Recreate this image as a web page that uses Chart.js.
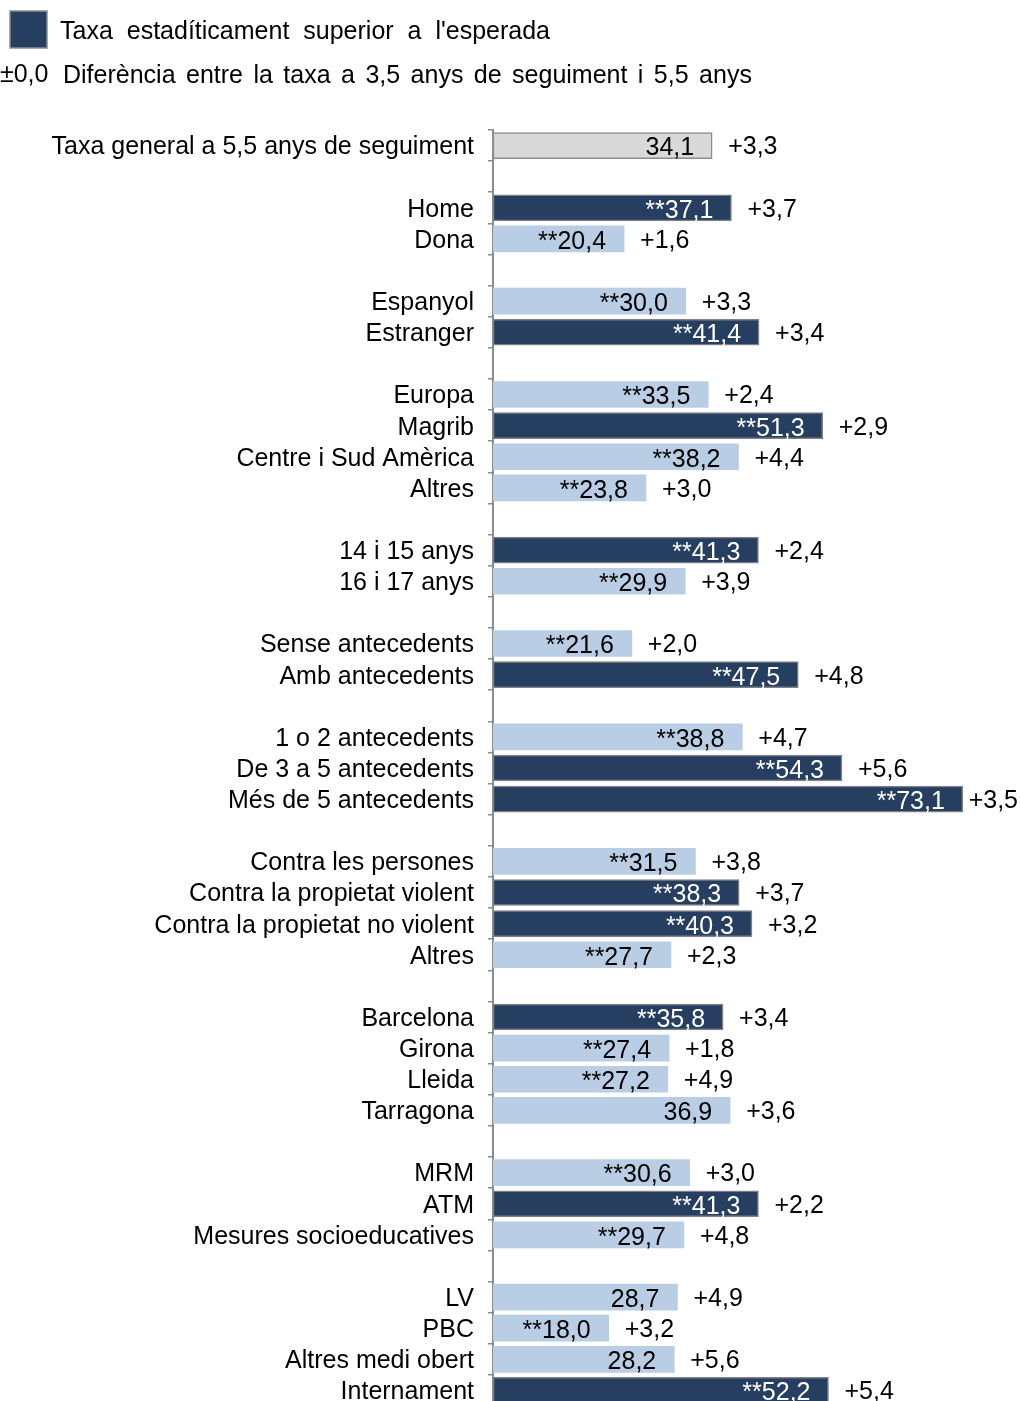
<!DOCTYPE html>
<html>
<head>
<meta charset="utf-8">
<script src="https://cdn.jsdelivr.net/npm/chart.js@4.4.0/dist/chart.umd.min.js"></script>
<style>
  html, body { margin: 0; padding: 0; background: #fff; overflow: hidden; }
  #taxaChart { position: absolute; left: 0; top: 0; }
</style>
</head>
<body>
<canvas id="taxaChart" width="1020" height="1435"></canvas>
<script>
// categories ('' = empty slot between groups)
const categories = [
  'Taxa general a 5,5 anys de seguiment', '',
  'Home', 'Dona', '',
  'Espanyol', 'Estranger', '',
  'Europa', 'Magrib', 'Centre i Sud Amèrica', 'Altres', '',
  '14 i 15 anys', '16 i 17 anys', '',
  'Sense antecedents', 'Amb antecedents', '',
  '1 o 2 antecedents', 'De 3 a 5 antecedents', 'Més de 5 antecedents', '',
  'Contra les persones', 'Contra la propietat violent', 'Contra la propietat no violent', 'Altres', '',
  'Barcelona', 'Girona', 'Lleida', 'Tarragona', '',
  'MRM', 'ATM', 'Mesures socioeducatives', '',
  'LV', 'PBC', 'Altres medi obert', 'Internament'
];

// taxa a 5,5 anys
const rates = [
  34.1, null,
  37.1, 20.4, null,
  30.0, 41.4, null,
  33.5, 51.3, 38.2, 23.8, null,
  41.3, 29.9, null,
  21.6, 47.5, null,
  38.8, 54.3, 73.1, null,
  31.5, 38.3, 40.3, 27.7, null,
  35.8, 27.4, 27.2, 36.9, null,
  30.6, 41.3, 29.7, null,
  28.7, 18.0, 28.2, 52.2
];

// diferència entre 3,5 i 5,5 anys
const diffs = [
  3.3, null,
  3.7, 1.6, null,
  3.3, 3.4, null,
  2.4, 2.9, 4.4, 3.0, null,
  2.4, 3.9, null,
  2.0, 4.8, null,
  4.7, 5.6, 3.5, null,
  3.8, 3.7, 3.2, 2.3, null,
  3.4, 1.8, 4.9, 3.6, null,
  3.0, 2.2, 4.8, null,
  4.9, 3.2, 5.6, 5.4
];

// ** = significatiu
const significant = [
  0, 0,
  1, 1, 0,
  1, 1, 0,
  1, 1, 1, 1, 0,
  1, 1, 0,
  1, 1, 0,
  1, 1, 1, 0,
  1, 1, 1, 1, 0,
  1, 1, 1, 0, 0,
  1, 1, 1, 0,
  0, 1, 0, 1
];

// taxa estadísticament superior a l'esperada
const aboveExpected = [
  0, 0,
  1, 0, 0,
  0, 1, 0,
  0, 1, 0, 0, 0,
  1, 0, 0,
  0, 1, 0,
  0, 1, 1, 0,
  0, 1, 1, 0, 0,
  1, 0, 0, 0, 0,
  0, 1, 0, 0,
  0, 0, 0, 1
];

const DARK = '#263f61';
const LIGHT = '#b9cde5';
const GREY = '#d9d9d9';
const FONT = '"Liberation Sans", Arial, sans-serif';

const fmt = v => v.toFixed(1).replace('.', ',');

const barColors = rates.map((v, i) => i === 0 ? GREY : (aboveExpected[i] ? DARK : LIGHT));
const borderColors = rates.map((v, i) => i === 0 ? '#8c8c8c' : (aboveExpected[i] ? '#7f7f86' : LIGHT));
const borderWidths = rates.map((v, i) => (i === 0 || aboveExpected[i]) ? 1.5 : 0);

// legend + bar value labels
const labelPlugin = {
  id: 'labels',
  afterDraw(chart) {
    const ctx = chart.ctx;
    ctx.save();
    ctx.font = '25px ' + FONT;
    ctx.textBaseline = 'middle';

    // legend
    ctx.fillStyle = DARK;
    ctx.fillRect(10, 11, 37, 37);
    ctx.strokeStyle = '#8c8c8c';
    ctx.lineWidth = 1.5;
    ctx.strokeRect(10, 11, 37, 37);
    ctx.fillStyle = '#000';
    ctx.textAlign = 'left';
    ctx.wordSpacing = '7px';
    ctx.fillText("Taxa estadíticament superior a l'esperada", 60, 32);
    ctx.wordSpacing = '3.5px';
    ctx.fillText('Diferència entre la taxa a 3,5 anys de seguiment i 5,5 anys', 63, 76);
    ctx.wordSpacing = '0px';
    ctx.fillText('±0,0', 0, 75);

    // values
    const right = chart.width - 2;
    const meta = chart.getDatasetMeta(0);
    meta.data.forEach((bar, i) => {
      if (rates[i] == null) return;
      const y = bar.y + 3;
      ctx.textAlign = 'right';
      ctx.fillStyle = (i !== 0 && aboveExpected[i]) ? '#fff' : '#000';
      ctx.fillText((significant[i] ? '**' : '') + fmt(rates[i]), bar.x - 18, y);
      ctx.textAlign = 'left';
      ctx.fillStyle = '#000';
      const txt = '+' + fmt(diffs[i]);
      const w = ctx.measureText(txt).width;
      ctx.fillText(txt, Math.min(bar.x + 16, right - w), y - 1);
    });
    ctx.restore();
  }
};

new Chart(document.getElementById('taxaChart').getContext('2d'), {
  type: 'bar',
  data: {
    labels: categories,
    datasets: [{
      data: rates,
      backgroundColor: barColors,
      borderColor: borderColors,
      borderWidth: borderWidths,
      borderSkipped: false,
      barThickness: 26
    }]
  },
  options: {
    indexAxis: 'y',
    responsive: false,
    animation: false,
    layout: { padding: { top: 130, bottom: 0, left: 0, right: 0 } },
    plugins: {
      legend: { display: false },
      tooltip: { enabled: false }
    },
    scales: {
      x: {
        display: false,
        min: 0,
        max: 82
      },
      y: {
        afterFit: scale => { scale.width = 493; },
        grid: {
          offset: true,
          drawOnChartArea: false,
          drawTicks: true,
          tickLength: 5,
          color: '#8c8c8c',
          lineWidth: 1.5
        },
        border: { display: true, color: '#8c8c8c', width: 2 },
        ticks: {
          autoSkip: false,
          padding: 14,
          labelOffset: 2,
          color: '#000',
          font: { family: FONT, size: 25 }
        }
      }
    }
  },
  plugins: [labelPlugin]
});
</script>
</body>
</html>
